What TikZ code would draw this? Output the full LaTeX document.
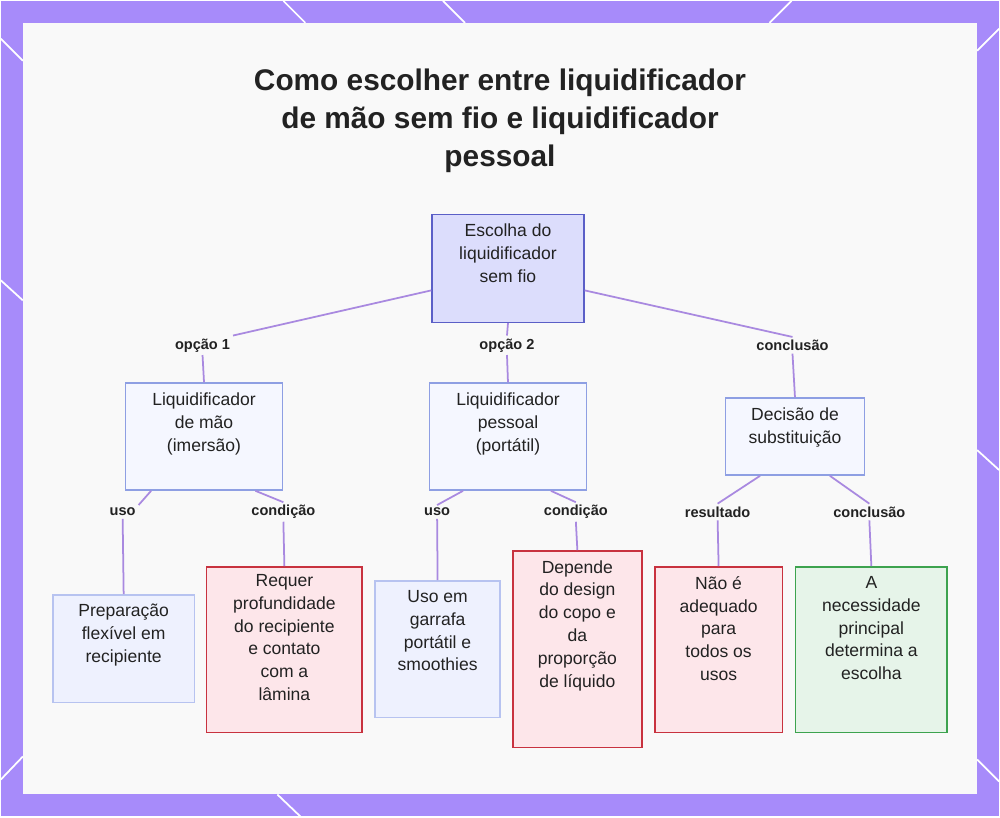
\documentclass[tikz,border=0pt]{standalone}
\usepackage{fontspec}
\setmainfont{Liberation Sans}
\usetikzlibrary{positioning}
\definecolor{frame}{HTML}{A78BFA}
\definecolor{panel}{HTML}{F9F9F9}
\definecolor{link}{HTML}{A989E0}
\definecolor{rootfill}{HTML}{DCDDFC}
\definecolor{rootdraw}{HTML}{5B5FC7}
\definecolor{optfill}{HTML}{F5F7FF}
\definecolor{optdraw}{HTML}{8E9FE3}
\definecolor{leaffill}{HTML}{EEF1FE}
\definecolor{leafdraw}{HTML}{B7C3F0}
\definecolor{redfill}{HTML}{FDE6EA}
\definecolor{reddraw}{HTML}{C8323F}
\definecolor{grnfill}{HTML}{E6F4E9}
\definecolor{grndraw}{HTML}{3DA34F}
\definecolor{ink}{HTML}{222222}
\begin{document}
\begin{tikzpicture}[x=0.02cm, y=-0.02cm,
  box/.style={draw=optdraw, fill=optfill, line width=0.9pt},
  txt/.style={anchor=north, align=center, text=ink, font=\fontsize{10}{13}\selectfont, inner sep=0pt},
  lbl/.style={font=\fontsize{8.3}{10}\selectfont\bfseries, text=ink, inner sep=1.5pt},
  link/.style={draw=link, line width=1pt}
]
  % frame
  \fill[frame] (0,0) rectangle (1000,817);
  \foreach \a/\b in {{283,0}/{305,22}, {465,22}/{443,0}, {770,22}/{792,0},
                     {0,38}/{22,60}, {978,50}/{1000,28}, {0,780}/{22,757},
                     {277,795}/{300,817}, {978,760}/{1000,782}, {0,280}/{22,300}, {978,450}/{1000,470}}
    \draw[white, line width=1pt] (\a) -- (\b);
  \fill[panel] (22,22) rectangle (978,795);

  % title
  \node[align=center, font=\fontsize{17}{21.5}\selectfont\bfseries, text=ink] (title) at (500,120)
    {Como escolher entre liquidificador\\de mão sem fio e liquidificador\\pessoal};

  % boxes
  \node[box, draw=rootdraw, fill=rootfill, minimum width=152*0.02cm, minimum height=108*0.02cm] (root) at (508,268) {};
  \node[box, minimum width=157*0.02cm, minimum height=107*0.02cm] (hand) at (203.5,436.5) {};
  \node[box, minimum width=157*0.02cm, minimum height=107*0.02cm] (pers) at (508,436.5) {};
  \node[box, minimum width=139*0.02cm, minimum height=77*0.02cm] (dec) at (795.5,436.5) {};
  \node[box, draw=leafdraw, fill=leaffill, minimum width=142*0.02cm, minimum height=108*0.02cm] (flex) at (123,649) {};
  \node[box, draw=reddraw, fill=redfill, minimum width=156*0.02cm, minimum height=166*0.02cm] (depth) at (284,650) {};
  \node[box, draw=leafdraw, fill=leaffill, minimum width=125*0.02cm, minimum height=137*0.02cm] (bottle) at (437.5,649.5) {};
  \node[box, draw=reddraw, fill=redfill, minimum width=129*0.02cm, minimum height=197*0.02cm] (design) at (577.5,649.5) {};
  \node[box, draw=reddraw, fill=redfill, minimum width=128*0.02cm, minimum height=166*0.02cm] (notall) at (719,650) {};
  \node[box, draw=grndraw, fill=grnfill, minimum width=152*0.02cm, minimum height=166*0.02cm] (need) at (872,650) {};

  % texts
  \node[txt] at ([yshift=-0.2cm]root.north) {Escolha do\\liquidificador\\sem fio};
  \node[txt] at ([yshift=-0.2cm]hand.north) {Liquidificador\\de mão\\(imersão)};
  \node[txt] at ([yshift=-0.2cm]pers.north) {Liquidificador\\pessoal\\(portátil)};
  \node[txt] at ([yshift=-0.2cm]dec.north) {Decisão de\\substituição};
  \node[txt] at ([yshift=-0.2cm]flex.north) {Preparação\\flexível em\\recipiente};
  \node[txt] at ([yshift=-0.16cm]depth.north) {Requer\\profundidade\\do recipiente\\e contato\\com a\\lâmina};
  \node[txt] at ([yshift=-0.2cm]bottle.north) {Uso em\\garrafa\\portátil e\\smoothies};
  \node[txt] at ([yshift=-0.2cm]design.north) {Depende\\do design\\do copo e\\da\\proporção\\de líquido};
  \node[txt] at ([yshift=-0.2cm]notall.north) {Não é\\adequado\\para\\todos os\\usos};
  \node[txt] at ([yshift=-0.2cm]need.north) {A\\necessidade\\principal\\determina a\\escolha};

  % labels
  \node[lbl] (o1) at (202,345) {opção 1};
  \node[lbl] (o2) at (507,345) {opção 2};
  \node[lbl] (o3) at (793,345) {conclusão};
  \node[lbl] (u1) at (122,512) {uso};
  \node[lbl] (c1) at (283,512) {condição};
  \node[lbl] (u2) at (437,512) {uso};
  \node[lbl] (c2) at (576,512) {condição};
  \node[lbl] (r3) at (718,512) {resultado};
  \node[lbl] (c3) at (870,512) {conclusão};

  % connectors
  \draw[link] ([yshift=-0.44cm]root.west) -- (o1.north east);
  \draw[link] (o1.south) -- (hand.north);
  \draw[link] (root.south) -- (o2.north);
  \draw[link] (o2.south) -- (pers.north);
  \draw[link] ([yshift=-0.44cm]root.east) -- (o3.north);
  \draw[link] (o3.south) -- (dec.north);
  \draw[link] ([xshift=-1.06cm]hand.south) -- (u1.north east);
  \draw[link] (u1.south) -- (flex.north);
  \draw[link] ([xshift=1.03cm]hand.south) -- (c1.north);
  \draw[link] (c1.south) -- (depth.north);
  \draw[link] ([xshift=-0.9cm]pers.south) -- (u2.north);
  \draw[link] (u2.south) -- (bottle.north);
  \draw[link] ([xshift=0.86cm]pers.south) -- (c2.north);
  \draw[link] (c2.south) -- (design.north);
  \draw[link] ([xshift=-0.7cm]dec.south) -- (r3.north);
  \draw[link] (r3.south) -- (notall.north);
  \draw[link] ([xshift=0.7cm]dec.south) -- (c3.north);
  \draw[link] (c3.south) -- (need.north);
\end{tikzpicture}
\end{document}
